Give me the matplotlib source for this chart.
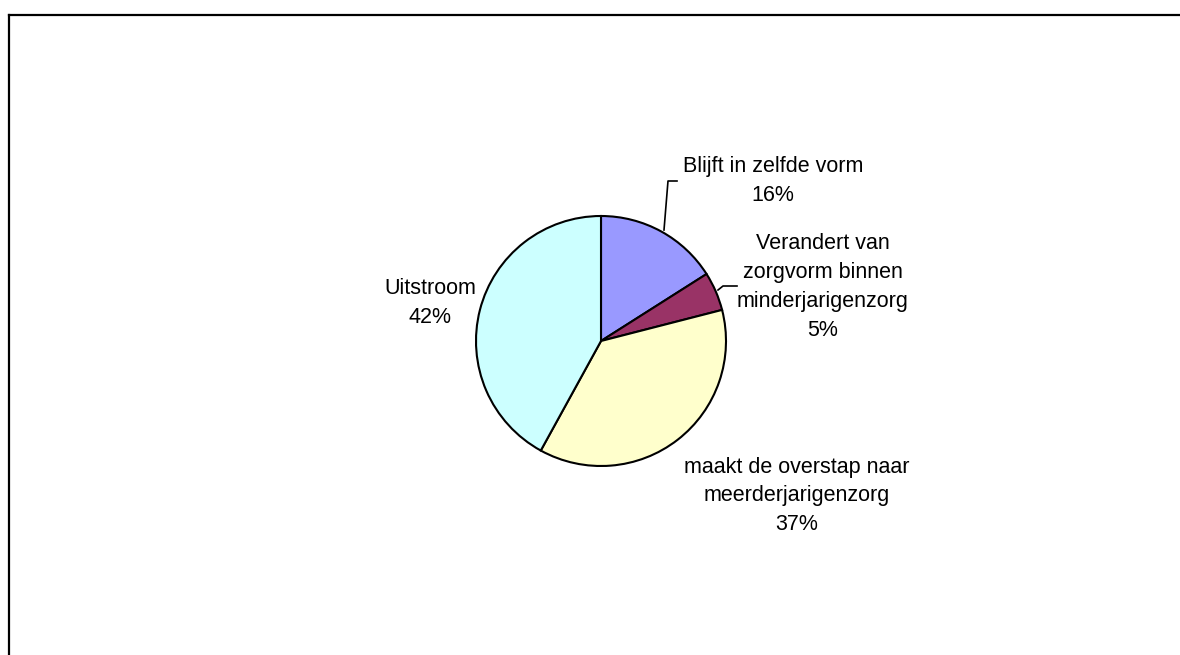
import matplotlib.pyplot as plt
from matplotlib.lines import Line2D

plt.rcParams['font.family'] = ['Liberation Sans', 'DejaVu Sans']

labels = ['Blijft in zelfde vorm', 'Verandert van\nzorgvorm binnen\nminderjarigenzorg',
          'maakt de overstap naar\nmeerderjarigenzorg', 'Uitstroom']
values = [16, 5, 37, 42]
colors = ['#9999FF', '#993366', '#FFFFCC', '#CCFFFF']

W, H = 1180, 655
fig = plt.figure(figsize=(W / 100, H / 100), dpi=100)
ax = fig.add_axes([0, 0, 1, 1])
ax.set_xlim(0, W)
ax.set_ylim(0, H)
ax.set_aspect('equal')
ax.axis('off')

# pie in pixel-like coordinates (y measured from bottom)
cx, cy, r = 601, H - 341, 125
ax.pie(values, colors=colors, startangle=90, counterclock=False,
       center=(cx, cy), radius=r,
       wedgeprops=dict(edgecolor='black', linewidth=1.5))
ax.set_xlim(0, W)
ax.set_ylim(0, H)

# labels
txt = dict(fontsize=15.5, ha='center', va='center', linespacing=1.5, color='black')
ax.text(773, H - 181, labels[0] + '\n%d%%' % values[0], **txt)
ax.text(823, H - 287, labels[1] + '\n%d%%' % values[1], **txt)
ax.text(797, H - 496, labels[2] + '\n%d%%' % values[2], **txt)
ax.text(430, H - 303, labels[3] + '\n%d%%' % values[3], **txt)

# leader lines
ax.plot([664, 668, 677], [H - 230, H - 181, H - 181], color='black', lw=1.2)
ax.plot([718, 723, 737], [H - 290, H - 286, H - 286], color='black', lw=1.2)

# frame (left and top only visible)
fig.add_artist(Line2D([8.5 / W, 8.5 / W], [0, 1 - 14.5 / H], color='black', lw=1.6,
                      transform=fig.transFigure))
fig.add_artist(Line2D([8.5 / W, 1], [1 - 14.5 / H, 1 - 14.5 / H], color='black', lw=1.6,
                      transform=fig.transFigure))

fig.savefig('out.png', dpi=100)
